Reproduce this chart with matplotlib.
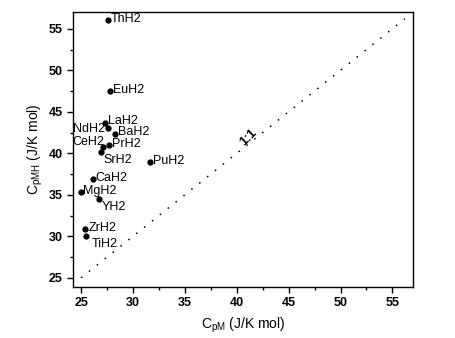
import matplotlib
matplotlib.use("Agg")
import matplotlib.pyplot as plt
from matplotlib.ticker import MultipleLocator

plt.rcParams['font.family'] = ['Liberation Sans', 'DejaVu Sans']
plt.rcParams['mathtext.fontset'] = 'custom'
plt.rcParams['mathtext.rm'] = 'Liberation Sans'

names = ["ThH2", "EuH2", "LaH2", "NdH2", "BaH2", "CeH2", "PrH2", "SrH2",
         "PuH2", "CaH2", "MgH2", "YH2", "ZrH2", "TiH2"]
cp_m = [27.6, 27.8, 27.3, 27.6, 28.3, 27.1, 27.7, 26.9,
        31.6, 26.1, 25.0, 26.7, 25.4, 25.5]
cp_mh = [56.0, 47.5, 43.7, 43.0, 42.3, 40.8, 41.0, 40.1,
         39.0, 36.9, 35.3, 34.5, 30.9, 30.0]
line_ref = [25, 56.2]

# label placement (pixel offsets, alignment)
offsets = {
    "ThH2": (3, 1, 'left'), "EuH2": (3, 1, 'left'), "LaH2": (3, 2, 'left'),
    "NdH2": (-3, -1, 'right'), "BaH2": (3, 2, 'left'), "CeH2": (1, 5, 'right'),
    "PrH2": (3, 1, 'left'), "SrH2": (3, -8, 'left'), "PuH2": (3, 1, 'left'),
    "CaH2": (3, 1, 'left'), "MgH2": (2, 1, 'left'), "YH2": (3, -8, 'left'),
    "ZrH2": (3, 1, 'left'), "TiH2": (5, -8, 'left'),
}

fig = plt.figure(figsize=(4.55, 3.38), dpi=100)
ax = fig.add_axes([0.160, 0.151, 0.748, 0.813])

ax.plot(line_ref, line_ref, color='black', linestyle=(0, (1, 5.6)), linewidth=1.1)
ax.plot(cp_m, cp_mh, 'o', color='black', markersize=3.5, linestyle='none')

for n, x, y in zip(names, cp_m, cp_mh):
    dx, dy, ha = offsets[n]
    ax.annotate(n, (x, y), xytext=(dx, dy), textcoords='offset pixels',
                ha=ha, va='center', fontsize=9)

ax.text(41.1, 41.9, "1:1", rotation=45, fontsize=9, fontweight='bold',
        ha='center', va='center')

ax.set_xlim(24.2, 57)
ax.set_ylim(23.9, 57)
ax.xaxis.set_major_locator(MultipleLocator(5))
ax.xaxis.set_minor_locator(MultipleLocator(2.5))
ax.yaxis.set_major_locator(MultipleLocator(5))
ax.yaxis.set_minor_locator(MultipleLocator(2.5))
ax.tick_params(which='major', direction='out', length=4, width=1, labelsize=9)
ax.tick_params(which='minor', direction='out', length=2.5, width=1)
for lab in ax.get_xticklabels() + ax.get_yticklabels():
    lab.set_fontweight('bold')
for s in ax.spines.values():
    s.set_linewidth(1.0)

ax.set_xlabel(r"C$_{\mathrm{pM}}$ (J/K mol)", fontsize=10, labelpad=4.5)
ax.set_ylabel(r"C$_{\mathrm{pMH}}$ (J/K mol)", fontsize=10, labelpad=2.5)

fig.savefig("out.png", dpi=100)
